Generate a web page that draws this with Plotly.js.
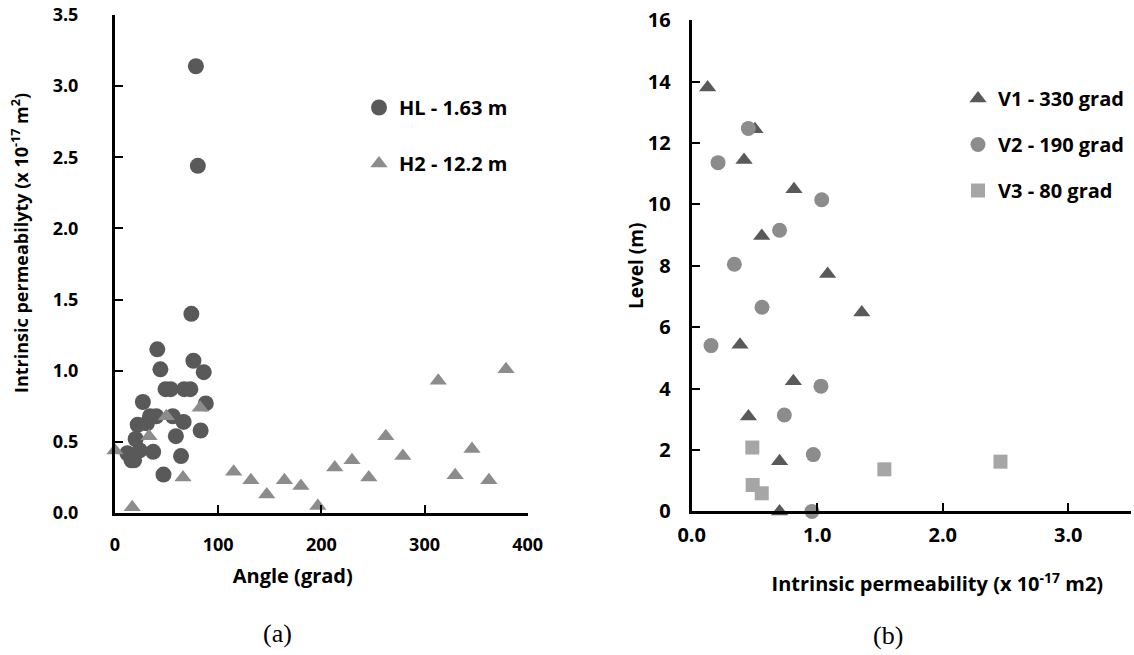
<!DOCTYPE html>
<html>
<head>
<meta charset="utf-8">
<script src="https://cdn.plot.ly/plotly-3.0.1.min.js"></script>
<style>html,body{margin:0;padding:0;background:#fff;}#chart{width:1134px;height:655px;}</style>
</head>
<body>
<div id="chart"></div>
<script>
// Panel (a): intrinsic permeability vs angle
const hlAngle = [12, 16, 18.5, 20, 22, 24, 27, 31, 34, 37, 40, 41, 44, 47, 49, 54, 56, 59, 64, 66.5, 67, 73, 74, 76, 78.4, 80.3, 83, 86, 88];
const hlPerm  = [0.42, 0.37, 0.37, 0.52, 0.62, 0.44, 0.78, 0.63, 0.68, 0.43, 0.68, 1.15, 1.01, 0.27, 0.87, 0.87, 0.68, 0.54, 0.40, 0.64, 0.87, 0.87, 1.40, 1.07, 3.14, 2.44, 0.58, 0.99, 0.77];
const h2Angle = [0, 16.7, 33, 49.8, 65.9, 82.6, 115, 131.7, 147.1, 164.2, 180.2, 196.6, 213, 229.7, 246, 262.5, 279, 313.3, 329.7, 346, 362.4, 379];
const h2Perm  = [0.44, 0.04, 0.54, 0.68, 0.25, 0.74, 0.29, 0.23, 0.13, 0.23, 0.19, 0.05, 0.32, 0.37, 0.25, 0.54, 0.40, 0.93, 0.265, 0.45, 0.23, 1.01];

// Panel (b): level vs intrinsic permeability
const v1Perm  = [0.127, 0.504, 0.417, 0.815, 0.558, 1.083, 1.355, 0.385, 0.81, 0.452, 0.70, 0.70];
const v1Level = [13.81, 12.45, 11.45, 10.49, 8.97, 7.73, 6.48, 5.43, 4.24, 3.09, 1.63, 0];
const v2Perm  = [0.451, 0.21, 1.036, 0.70, 0.34, 0.56, 0.154, 1.03, 0.738, 0.969, 0.958];
const v2Level = [12.47, 11.36, 10.15, 9.16, 8.05, 6.65, 5.40, 4.08, 3.14, 1.85, 0];
const v3Perm  = [0.483, 0.486, 0.558, 1.535, 2.46];
const v3Level = [2.08, 0.86, 0.59, 1.37, 1.62];

const seriesNames = ['HL - 1.63 m', 'H2 - 12.2 m', 'V1 - 330 grad', 'V2 - 190 grad', 'V3 - 80 grad'];
const xTicksA = [0, 100, 200, 300, 400];
const yTicksA = [0, 0.5, 1.0, 1.5, 2.0, 2.5, 3.0, 3.5];
const xTicksB = [0, 1, 2, 3];
const yTicksB = [0, 2, 4, 6, 8, 10, 12, 14, 16];

const FONT = '"Open Sans", Lato, sans-serif';
const dark = '#595959', mid = '#8c8c8c', light = '#a6a6a6';
const NB = n => '\u00a0'.repeat(n);

const traces = [
  {x: hlAngle, y: hlPerm, name: seriesNames[0], type: 'scatter', mode: 'markers', xaxis: 'x', yaxis: 'y',
   legend: 'legend', legendgroup: 'a1', cliponaxis: false,
   marker: {symbol: 'circle', size: 16, color: dark}},
  {x: h2Angle, y: h2Perm, name: seriesNames[1], type: 'scatter', mode: 'markers', xaxis: 'x', yaxis: 'y',
   legend: 'legend', legendgroup: 'a2', cliponaxis: false,
   marker: {symbol: 'triangle-up', size: 15, color: mid}},
  {x: v1Perm, y: v1Level, name: seriesNames[2], type: 'scatter', mode: 'markers', xaxis: 'x2', yaxis: 'y2',
   legend: 'legend2', legendgroup: 'b1', cliponaxis: false,
   marker: {symbol: 'triangle-up', size: 15, color: dark}},
  {x: v2Perm, y: v2Level, name: seriesNames[3], type: 'scatter', mode: 'markers', xaxis: 'x2', yaxis: 'y2',
   legend: 'legend2', legendgroup: 'b2', cliponaxis: false,
   marker: {symbol: 'circle', size: 15, color: mid}},
  {x: v3Perm, y: v3Level, name: seriesNames[4], type: 'scatter', mode: 'markers', xaxis: 'x2', yaxis: 'y2',
   legend: 'legend2', legendgroup: 'b3', cliponaxis: false,
   marker: {symbol: 'square', size: 14, color: light}}
];

function axisBase(size) {
  return {
    showgrid: false, zeroline: false, showline: true, linecolor: '#000', linewidth: 3,
    ticks: 'inside', ticklen: 8, tickwidth: 2, tickcolor: '#000',
    tickfont: {family: FONT, size: size, color: '#000', weight: 700},
    automargin: false, fixedrange: true
  };
}

const layout = {
  width: 1134, height: 655,
  margin: {l: 0, r: 0, t: 0, b: 0},
  paper_bgcolor: '#fff', plot_bgcolor: '#fff',
  showlegend: true,
  xaxis: Object.assign(axisBase(18), {
    domain: [115/1134, 527.7/1134], range: [0, 400],
    tickvals: xTicksA, ticktext: xTicksA.map(String), ticklabelstandoff: 13,
    anchor: 'y',
    title: {text: '<b>Angle (grad)' + NB(11) + '</b>', standoff: 15, font: {family: FONT, size: 20, color: '#000', weight: 700}}
  }),
  yaxis: Object.assign(axisBase(18), {
    domain: [142/655, 640/655], range: [0, 3.5],
    tickvals: yTicksA, ticktext: yTicksA.map(v => v.toFixed(1)), ticklabelstandoff: 30,
    anchor: 'x',
    title: {text: '<b>' + NB(9) + 'Intrinsic permeabilyty (x 10<sup>-17</sup> m<sup>2</sup>)</b>', standoff: 20,
            font: {family: FONT, size: 18, color: '#000', weight: 700}}
  }),
  xaxis2: Object.assign(axisBase(20), {
    domain: [691.7/1134, 1131/1134], range: [0, 3.5],
    tickvals: xTicksB, ticktext: xTicksB.map(v => v.toFixed(1)), ticklabelstandoff: 4,
    anchor: 'y2',
    title: {text: '<b>' + NB(10) + 'Intrinsic permeability (x 10<sup>-17</sup> m2)</b>', standoff: 30,
            font: {family: FONT, size: 20, color: '#000', weight: 700}}
  }),
  yaxis2: Object.assign(axisBase(20), {
    domain: [143.6/655, 634.8/655], range: [0, 16],
    tickvals: yTicksB, ticktext: yTicksB.map(String), ticklabelstandoff: 14,
    anchor: 'x2',
    title: {text: '<b>Level (m)</b>', standoff: 0, font: {family: FONT, size: 19, color: '#000', weight: 700}}
  }),
  legend: {
    x: 359/1134, xanchor: 'left', y: 1 - 88/655, yanchor: 'top',
    traceorder: 'grouped', tracegroupgap: 27, bgcolor: 'rgba(0,0,0,0)', borderwidth: 0,
    font: {family: FONT, size: 20, color: '#000', weight: 700}
  },
  legend2: {
    x: 958/1134, xanchor: 'left', y: 1 - 79/655, yanchor: 'top',
    traceorder: 'grouped', tracegroupgap: 17, bgcolor: 'rgba(0,0,0,0)', borderwidth: 0,
    font: {family: FONT, size: 20, color: '#000', weight: 700}
  },
  annotations: [
    {text: '(a)', xref: 'paper', yref: 'paper', x: 277/1134, y: 1 - 633/655, xanchor: 'center', yanchor: 'middle',
     showarrow: false, font: {family: '"Liberation Serif", "DejaVu Serif", serif', size: 26, color: '#000'}},
    {text: '(b)', xref: 'paper', yref: 'paper', x: 888/1134, y: 1 - 635/655, xanchor: 'center', yanchor: 'middle',
     showarrow: false, font: {family: '"Liberation Serif", "DejaVu Serif", serif', size: 26, color: '#000'}}
  ]
};

Plotly.newPlot('chart', traces, layout, {displayModeBar: false, staticPlot: true});
</script>
</body>
</html>
